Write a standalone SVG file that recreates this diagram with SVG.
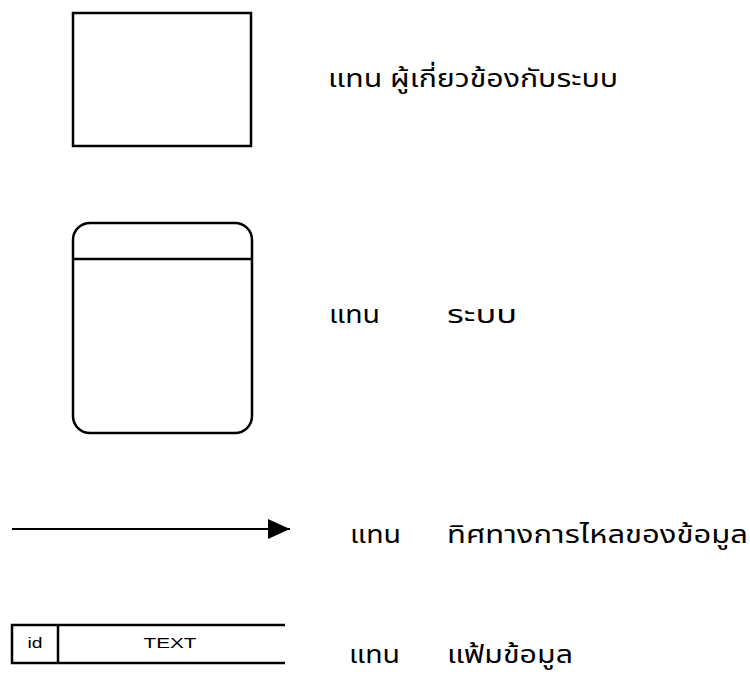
<svg xmlns="http://www.w3.org/2000/svg" width="750" height="675" viewBox="0 0 750 675">
<style>
.shape{fill:none;stroke:#000;stroke-width:2.5}
.th{font-family:"Noto Sans Thai","Noto Sans","DejaVu Sans",sans-serif;font-size:25px;fill:#000}
.lbl{font-family:"Liberation Sans",Arial,sans-serif;font-size:14px;fill:#000;text-anchor:middle}
</style>
<defs>
<marker id="ah" markerWidth="24" markerHeight="20" refX="22" refY="10" orient="auto" markerUnits="userSpaceOnUse">
<path d="M0,0 L22,10 L0,20 Z" fill="#000"/>
</marker>
</defs>
<rect width="750" height="675" fill="#fff"/>
<g id="external-entity">
<rect class="shape" x="73" y="13" width="178" height="133"/>
<text class="th" x="328" y="87" textLength="290" lengthAdjust="spacingAndGlyphs">แทน ผู้เกี่ยวข้องกับระบบ</text>
</g>
<g id="process">
<rect class="shape" x="73" y="223" width="179" height="210" rx="17" ry="17"/>
<line class="shape" x1="73" y1="259" x2="252" y2="259"/>
<text class="th" x="329" y="323" textLength="51" lengthAdjust="spacingAndGlyphs">แทน</text>
<text class="th" x="447" y="323" textLength="70" lengthAdjust="spacingAndGlyphs">ระบบ</text>
</g>
<g id="connectors">
<line x1="12" y1="529" x2="290" y2="529" stroke="#000" stroke-width="2.2" marker-end="url(#ah)"/>
</g>
<g id="data-flow-label">
<text class="th" x="350" y="543" textLength="51" lengthAdjust="spacingAndGlyphs">แทน</text>
<text class="th" x="447" y="543" textLength="301" lengthAdjust="spacingAndGlyphs">ทิศทางการไหลของข้อมูล</text>
</g>
<g id="data-store">
<path class="shape" d="M285,625 H12 V663 H285 M58,625 V663" stroke-width="2"/>
<text class="lbl" x="35" y="648" textLength="15" lengthAdjust="spacingAndGlyphs">id</text>
<text class="lbl" x="170" y="648" textLength="53" lengthAdjust="spacingAndGlyphs">TEXT</text>
<text class="th" x="349" y="663" textLength="51" lengthAdjust="spacingAndGlyphs">แทน</text>
<text class="th" x="447" y="663" textLength="126" lengthAdjust="spacingAndGlyphs">แฟ้มข้อมูล</text>
</g>
</svg>
